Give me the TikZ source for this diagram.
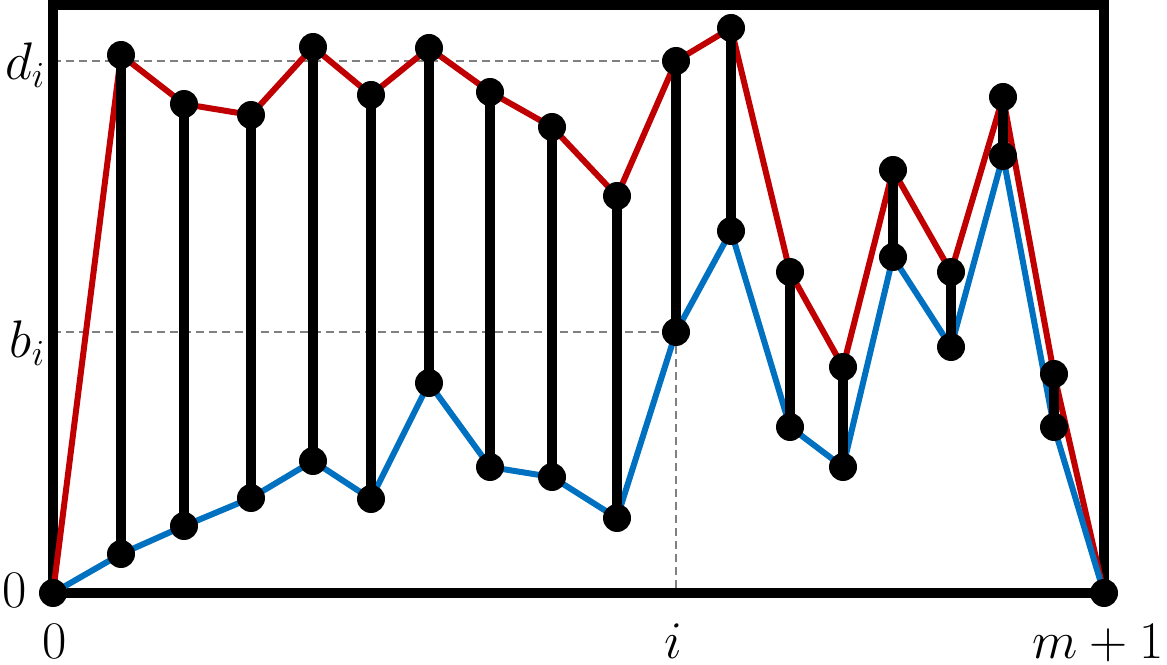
\documentclass[tikz,border=0pt]{standalone}
\usepackage{amsmath}
\definecolor{upred}{HTML}{C00000}
\definecolor{lowblue}{HTML}{0070C0}
\begin{document}
\begin{tikzpicture}[x=0.02cm,y=-0.02cm,
        dot/.style={circle,fill=black,inner sep=0pt,minimum size=0.56cm},
        stem/.style={black,line width=0.19cm},
        curve/.style={line width=0.12cm,line join=round},
        guide/.style={gray,line width=0.04cm,dash pattern=on 0.16cm off 0.1cm},
        lbl/.style={inner sep=0pt,font=\huge,scale=1.45}]
        \useasboundingbox (0,0) rectangle (1167,665);
        \coordinate (o) at (53,593);
        \coordinate (e) at (1104,593);
        \coordinate (tr) at (1104,5);
        \foreach \x/\u/\l [count=\k] in {121/55/554, 184/104/526, 251/115/498, 313/47/461,
                371/95/499, 429/48/383, 490/92/467, 552/127/477, 617/196/518, 676/61/332,
                731/28/231, 790/272/427, 843/367/467, 893/170/257, 951/272/347, 1003/97/156,
                1054/374/427}
        {
            \coordinate (u\k) at (\x,\u);
            \coordinate (l\k) at (\x,\l);
        }
        \draw[guide] (o |- u10) -- (u10);
        \draw[guide] (o |- l10) -- (l10) -- (l10 |- o);
        \draw[black, line width=0.2cm] (o) rectangle (tr);
        \draw[curve, upred] (o) \foreach \k in {1,...,17} { -- (u\k) } -- (e);
        \draw[curve, lowblue] (o) \foreach \k in {1,...,17} { -- (l\k) } -- (e);
        \foreach \k in {1,...,17}
            \draw[stem] (u\k) -- (l\k);
        \foreach \k in {1,...,17} {
            \node[dot] (du\k) at (u\k) {};
            \node[dot] (dl\k) at (l\k) {};
        }
        \node[dot] (dorig) at (o) {};
        \node[dot] (dend) at (e) {};
        \node[lbl, anchor=base east] (dlab) at (46,80) {$d_i$};
        \node[lbl, anchor=base east] (blab) at (46,358) {$b_i$};
        \node[lbl, anchor=base east] (ylab) at (27,607) {$0$};
        \node[lbl, anchor=base] (xlab) at (55,658) {$0$};
        \node[lbl, anchor=base] (ilab) at (673,658) {$i$};
        \node[lbl, anchor=base east] (mlab) at (1164,658) {$m+1$};
\end{tikzpicture}
\end{document}
